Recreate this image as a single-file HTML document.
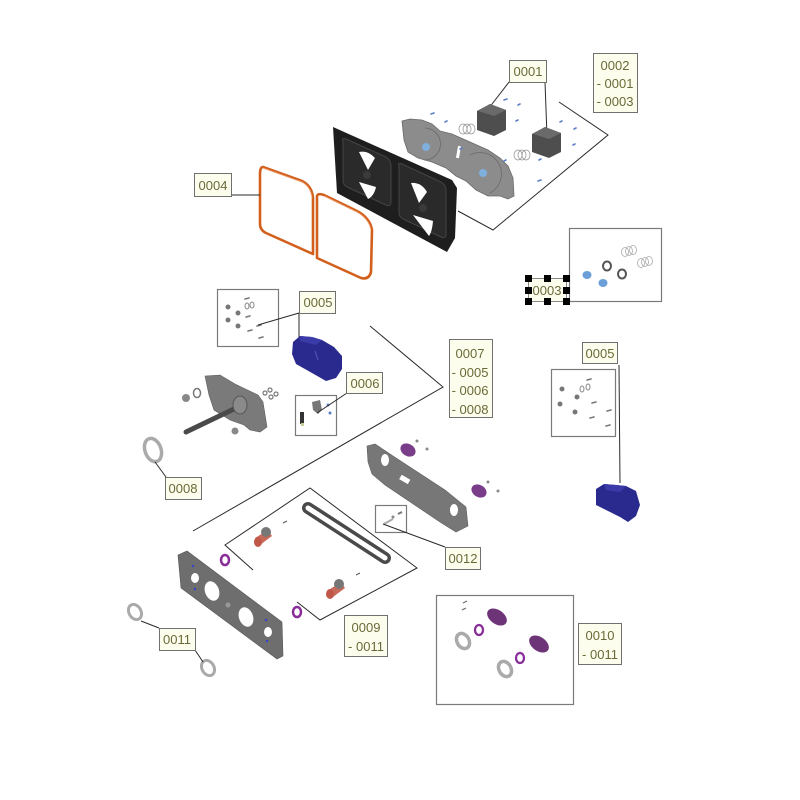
<!DOCTYPE html>
<html><head><meta charset="utf-8"><style>
html,body{margin:0;padding:0;background:#fff;}
svg{display:block;}
.lb{fill:#fdfdee;stroke:#707070;stroke-width:1;}
.t{font-family:"Liberation Sans",sans-serif;font-size:13px;fill:#6a6a38;text-anchor:middle;}
.ln{stroke:#2a2a2a;stroke-width:1;fill:none;}
.bx{fill:none;stroke:#7a7a7a;stroke-width:1.2;}
</style></head><body>
<svg width="800" height="800" viewBox="0 0 800 800" xmlns="http://www.w3.org/2000/svg">
<rect width="800" height="800" fill="#fff"/>

<!-- ===== top group lines ===== -->
<polyline class="ln" points="559,102 608,135 493,230 458,211"/>
<line class="ln" x1="509" y1="82" x2="489" y2="108"/>
<line class="ln" x1="545" y1="82" x2="547" y2="136"/>

<!-- gray plate (0002) -->
<path d="M402,121 L410,119 L422,120 L432,124 L440,131 L452,134 L470,142 L488,150 L500,158 L508,166 L513,178 L514,196 L508,199 L500,196 L488,196 L476,190 L466,181 L456,176 L446,168 L432,162 L418,158 L408,152 L404,140 Z" fill="#8c8c8c" stroke="#6a6a6a" stroke-width="0.8"/>
<path d="M425,128 A14,14 0 1 1 424,160" fill="none" stroke="#6a6a6a" stroke-width="0.8"/>
<path d="M470,155 A20,20 0 1 1 490,193" fill="none" stroke="#6a6a6a" stroke-width="0.8"/>
<rect x="457" y="146" width="3" height="12" fill="#fff" transform="rotate(10 458 152)"/>
<circle cx="426" cy="147" r="4" fill="#7fb0dd"/>
<circle cx="483" cy="173" r="4" fill="#7fb0dd"/>
<!-- motors -->
<path d="M477,111 L490,104 L506,110 L506,130 L494,136 L477,130 Z" fill="#4e4e4e"/>
<path d="M490,104 L506,110 L494,116 L478,111 Z" fill="#6a6a6a"/>
<path d="M532,134 L545,127 L561,133 L561,152 L549,158 L532,152 Z" fill="#4e4e4e"/>
<path d="M545,127 L561,133 L549,139 L533,134 Z" fill="#6a6a6a"/>
<!-- springs -->
<g fill="none" stroke="#999" stroke-width="0.8">
<ellipse cx="463" cy="129" rx="4" ry="5"/><ellipse cx="467" cy="129" rx="4" ry="5"/><ellipse cx="471" cy="129" rx="4" ry="5"/>
<ellipse cx="518" cy="155" rx="4" ry="5"/><ellipse cx="522" cy="155" rx="4" ry="5"/><ellipse cx="526" cy="155" rx="4" ry="5"/>
</g>
<!-- small blue screws -->
<g stroke="#5c7fc8" stroke-width="1.6" stroke-linecap="round">
<line x1="431" y1="114" x2="434" y2="113"/><line x1="445" y1="122" x2="447" y2="121"/>
<line x1="504" y1="100" x2="507" y2="99"/><line x1="518" y1="105" x2="520" y2="104"/>
<line x1="516" y1="121" x2="518" y2="120"/><line x1="460" y1="149" x2="462" y2="148"/>
<line x1="560" y1="122" x2="562" y2="121"/><line x1="574" y1="129" x2="576" y2="128"/>
<line x1="573" y1="145" x2="575" y2="144"/><line x1="539" y1="160" x2="541" y2="159"/>
<line x1="538" y1="181" x2="541" y2="180"/><line x1="504" y1="161" x2="506" y2="160"/>
</g>

<!-- black plate (0004 housing) -->
<path d="M333,127 L452,180 L457,188 L455,238 L447,252 L337,193 Z" fill="#1e1e1e"/>
<path d="M343,141 Q341,137 346,139 L386,157 Q391,160 391,166 L391,202 Q391,207 386,205 L347,187 Q343,185 343,180 Z" fill="#2a2a2a" stroke="#444" stroke-width="1"/>
<path d="M399,166 Q397,162 402,164 L441,182 Q446,185 446,191 L446,234 Q446,239 441,237 L403,219 Q399,217 399,212 Z" fill="#2a2a2a" stroke="#444" stroke-width="1"/>
<path d="M359,152 Q368,150 375,158 L368,170 Z" fill="#fff"/>
<path d="M359,182 L376,187 Q374,196 368,199 Z" fill="#fff"/>
<path d="M411,183 Q421,182 427,192 L419,203 Z" fill="#fff"/>
<path d="M413,215 L433,221 Q432,232 429,236 Z" fill="#fff"/>
<circle cx="367" cy="175" r="4" fill="#3a3a3a"/>
<circle cx="423" cy="208" r="4" fill="#3a3a3a"/>

<!-- orange gasket -->
<g fill="none" stroke="#d2601c" stroke-width="2.6" stroke-linejoin="round">
<path d="M263,167 L302,181 Q312,186 313,198 L313,254 L266,233 Q260,230 260,224 L260,174 Q260,167 263,167 Z"/>
<path d="M317,196 Q318,193 324,195 L357,211 Q370,218 372,230 L371,272 Q369,280 361,278 L317,258 Z"/>
</g>
<g fill="none" stroke="#f0a070" stroke-width="0.8">
<path d="M263,168 L302,182 Q311,187 312,198"/>
<path d="M324,196 L357,212 Q369,219 371,230"/>
</g>

<!-- 0004 label -->
<line class="ln" x1="231" y1="195" x2="260" y2="195" stroke="#555"/>
<rect class="lb" x="194.5" y="173.5" width="37" height="23"/>
<text class="t" x="213" y="190">0004</text>

<!-- 0001 label -->
<rect class="lb" x="509.5" y="60.5" width="37" height="22"/>
<text class="t" x="528" y="76">0001</text>

<!-- 0002 label -->
<rect class="lb" x="593.5" y="53.5" width="44" height="59"/>
<text class="t" x="615" y="70">0002</text>
<text class="t" x="615" y="88">- 0001</text>
<text class="t" x="615" y="106">- 0003</text>

<!-- 0003 parts box -->
<rect class="bx" x="569.5" y="228.5" width="92" height="73"/>
<ellipse cx="587" cy="275" rx="4.5" ry="4" fill="#6a9fd8"/>
<ellipse cx="603" cy="283" rx="4.5" ry="4" fill="#6a9fd8"/>
<ellipse cx="607" cy="266" rx="4" ry="4.5" fill="none" stroke="#555" stroke-width="2"/>
<ellipse cx="622" cy="274" rx="4" ry="4.5" fill="none" stroke="#555" stroke-width="2"/>
<g fill="none" stroke="#aaa" stroke-width="0.8">
<ellipse cx="625" cy="252" rx="3.5" ry="4.5"/><ellipse cx="629" cy="251" rx="3.5" ry="4.5"/><ellipse cx="633" cy="250" rx="3.5" ry="4.5"/>
<ellipse cx="641" cy="263" rx="3.5" ry="4.5"/><ellipse cx="645" cy="262" rx="3.5" ry="4.5"/><ellipse cx="649" cy="261" rx="3.5" ry="4.5"/>
</g>
<!-- 0003 selected label -->
<rect x="528.5" y="278.5" width="38" height="23" fill="#fdfdee" stroke="#888" stroke-width="1"/>
<text class="t" x="547" y="295">0003</text>
<g fill="#000">
<rect x="525" y="275" width="7" height="7"/><rect x="544" y="275" width="7" height="7"/><rect x="563" y="275" width="7" height="7"/>
<rect x="525" y="287" width="7" height="7"/><rect x="563" y="287" width="7" height="7"/>
<rect x="525" y="298" width="7" height="7"/><rect x="544" y="298" width="7" height="7"/><rect x="563" y="298" width="7" height="7"/>
</g>

<!-- ===== middle-left group ===== -->
<polyline class="ln" points="370,326 443,387 193,531"/>

<!-- 0005 left parts box -->
<rect class="bx" x="217.5" y="289.5" width="61" height="57"/>
<g fill="#777">
<circle cx="228" cy="307" r="2.5"/><circle cx="238" cy="313" r="2.5"/><circle cx="228" cy="320" r="2.5"/><circle cx="238" cy="326" r="2.5"/>
</g>
<g stroke="#777" stroke-width="1.6" stroke-linecap="round">
<line x1="245" y1="299" x2="249" y2="298"/><line x1="246" y1="317" x2="250" y2="316"/>
<line x1="257" y1="326" x2="261" y2="325"/><line x1="248" y1="331" x2="252" y2="330"/><line x1="259" y1="338" x2="263" y2="337"/>
</g>
<g fill="none" stroke="#888" stroke-width="1"><ellipse cx="247" cy="306" rx="2" ry="3"/><ellipse cx="252" cy="305" rx="2" ry="3"/></g>
<line class="ln" x1="299" y1="313" x2="258" y2="325"/>
<line class="ln" x1="299" y1="313" x2="299" y2="338"/>
<rect class="lb" x="299.5" y="291.5" width="36" height="22"/>
<text class="t" x="318" y="307">0005</text>

<!-- blue motor left -->
<path d="M293,342 L300,336 L312,337 L322,340 L334,347 L342,356 L342,369 L336,378 L326,381 L312,373 L296,364 L292,354 Z" fill="#2a2a8e"/>
<path d="M300,336 L312,337 L322,340 L316,345 L300,341 Z" fill="#3a3aa8"/>
<line x1="315" y1="351" x2="318" y2="360" stroke="#5555bb" stroke-width="1"/>

<!-- 0006 -->
<rect class="bx" x="295.5" y="395.5" width="41" height="40"/>
<path d="M312,402 L320,400 L322,410 L318,414 L313,410 Z" fill="#777"/>
<rect x="300" y="412" width="4" height="12" fill="#333"/>
<rect x="301" y="423" width="3" height="3" fill="#cc9"/>
<circle cx="328" cy="405" r="1.5" fill="#5c7fc8"/><circle cx="330" cy="413" r="1.5" fill="#5c7fc8"/>
<line class="ln" x1="347" y1="393" x2="317" y2="413"/>
<rect class="lb" x="346.5" y="372.5" width="36" height="21"/>
<text class="t" x="365" y="388">0006</text>

<!-- shaft plate -->
<path d="M205,376 L220,375 L235,384 L258,395 L263,402 L267,427 L260,432 L250,430 L244,425 L230,420 L214,410 L209,395 Z" fill="#7a7a7a" stroke="#5e5e5e" stroke-width="0.6"/>
<line x1="186" y1="432" x2="236" y2="408" stroke="#4a4a4a" stroke-width="5" stroke-linecap="round"/>
<ellipse cx="240" cy="405" rx="7" ry="9" fill="#8a8a8a" stroke="#555" stroke-width="1"/>
<circle cx="186" cy="398" r="4" fill="#888"/>
<ellipse cx="197" cy="393" rx="3.5" ry="4.5" fill="none" stroke="#777" stroke-width="1.5"/>
<circle cx="235" cy="431" r="3.5" fill="#888"/>
<g fill="none" stroke="#777" stroke-width="1.2"><circle cx="265" cy="393" r="2"/><circle cx="270" cy="390" r="2"/><circle cx="271" cy="397" r="2"/><circle cx="276" cy="394" r="2"/></g>

<!-- 0007 label -->
<rect class="lb" x="449.5" y="339.5" width="43" height="78"/>
<text class="t" x="470" y="358">0007</text>
<text class="t" x="470" y="377">- 0005</text>
<text class="t" x="470" y="395">- 0006</text>
<text class="t" x="470" y="414">- 0008</text>

<!-- 0008 ring -->
<ellipse cx="153" cy="450" rx="8" ry="12" fill="none" stroke="#aaa" stroke-width="3.5" transform="rotate(-20 153 450)"/>
<line class="ln" x1="166" y1="477" x2="155" y2="462"/>
<rect class="lb" x="165.5" y="477.5" width="36" height="22"/>
<text class="t" x="183" y="493">0008</text>

<!-- ===== right 0005 ===== -->
<rect class="lb" x="582.5" y="342.5" width="35" height="21"/>
<text class="t" x="600" y="358">0005</text>
<line class="ln" x1="619" y1="365" x2="620" y2="483"/>
<rect class="bx" x="551.5" y="369.5" width="64" height="67"/>
<g fill="#777">
<circle cx="562" cy="389" r="2.5"/><circle cx="577" cy="397" r="2.5"/><circle cx="560" cy="404" r="2.5"/><circle cx="575" cy="412" r="2.5"/>
</g>
<g stroke="#777" stroke-width="1.6" stroke-linecap="round">
<line x1="587" y1="380" x2="591" y2="379"/><line x1="592" y1="403" x2="596" y2="402"/>
<line x1="590" y1="418" x2="594" y2="417"/><line x1="607" y1="411" x2="611" y2="410"/><line x1="606" y1="426" x2="610" y2="425"/>
</g>
<g fill="none" stroke="#888" stroke-width="1"><ellipse cx="582" cy="389" rx="2" ry="3"/><ellipse cx="588" cy="387" rx="2" ry="3"/></g>
<path d="M596,489 L604,484 L616,485 L626,486 L636,491 L640,505 L636,516 L628,522 L620,517 L606,510 L596,505 Z" fill="#2a2a8e"/>
<path d="M604,484 L616,485 L626,486 L620,492 L606,490 Z" fill="#3a3aa8"/>

<!-- ===== lower group ===== -->
<!-- channel beam -->
<path d="M367,446 L375,444 L393,456 L445,490 L466,507 L468,526 L456,532 L440,522 L385,485 L372,474 L368,462 Z" fill="#777" stroke="#5e5e5e" stroke-width="0.6"/>
<ellipse cx="385" cy="460" rx="4" ry="6" fill="#fff"/>
<rect x="400" y="477" width="10" height="5" fill="#fff" transform="rotate(30 405 479)"/>
<ellipse cx="454" cy="510" rx="4" ry="6" fill="#fff"/>
<!-- purple plates -->
<ellipse cx="408" cy="450" rx="8" ry="6" fill="#7a3d8a" transform="rotate(30 408 450)"/>
<ellipse cx="479" cy="491" rx="8" ry="6" fill="#7a3d8a" transform="rotate(30 479 491)"/>
<circle cx="417" cy="441" r="1.5" fill="#888"/><circle cx="427" cy="449" r="1.5" fill="#888"/>
<circle cx="488" cy="482" r="1.5" fill="#888"/><circle cx="498" cy="491" r="1.5" fill="#888"/>

<!-- 0012 -->
<rect class="bx" x="375.5" y="505.5" width="31" height="27"/>
<line x1="384" y1="524" x2="393" y2="519" stroke="#aaa" stroke-width="2"/>
<circle cx="393" cy="517" r="1.5" fill="#888"/><line x1="398" y1="514" x2="402" y2="512" stroke="#777" stroke-width="2"/>
<line class="ln" x1="383" y1="524" x2="445" y2="547"/>
<rect class="lb" x="445.5" y="547.5" width="35" height="22"/>
<text class="t" x="463" y="563">0012</text>

<!-- 0009 group -->
<polyline class="ln" points="253,570 225,545 310,488 417,568 320,620 297,602"/>
<!-- belt -->
<line x1="308" y1="508" x2="385" y2="558" stroke="#4a4a4a" stroke-width="12" stroke-linecap="round"/>
<line x1="308" y1="508" x2="385" y2="558" stroke="#fff" stroke-width="5" stroke-linecap="round"/>
<!-- pulleys -->
<path d="M255,538 L268,530 L272,536 L260,545 Z" fill="#c86a5a"/>
<circle cx="266" cy="532" r="5" fill="#777"/>
<ellipse cx="258" cy="542" rx="4" ry="5" fill="#c0584a"/>
<line x1="283" y1="523" x2="287" y2="521" stroke="#555" stroke-width="1"/>
<path d="M327,591 L341,582 L345,588 L333,597 Z" fill="#c86a5a"/>
<circle cx="339" cy="584" r="5" fill="#777"/>
<ellipse cx="330" cy="594" rx="4" ry="5" fill="#c0584a"/>
<line x1="356" y1="575" x2="360" y2="573" stroke="#555" stroke-width="1"/>
<!-- purple rings -->
<ellipse cx="225" cy="560" rx="4" ry="5" fill="none" stroke="#8a2d9a" stroke-width="2.5"/>
<ellipse cx="297" cy="612" rx="4" ry="5" fill="none" stroke="#8a2d9a" stroke-width="2.5"/>

<!-- bottom-left plate -->
<path d="M178,555 L187,551 L282,622 L283,656 L277,659 L181,588 Z" fill="#6e6e6e" stroke="#555" stroke-width="0.6"/>
<ellipse cx="195" cy="578" rx="4" ry="5" fill="#fff"/>
<ellipse cx="212" cy="591" rx="7" ry="10" fill="#fff" transform="rotate(-20 212 591)"/>
<ellipse cx="246" cy="617" rx="7" ry="10" fill="#fff" transform="rotate(-20 246 617)"/>
<ellipse cx="268" cy="632" rx="4" ry="5" fill="#fff"/>
<circle cx="228" cy="605" r="2.5" fill="#999"/>
<circle cx="193" cy="566" r="1.2" fill="#3344cc"/><circle cx="195" cy="589" r="1.2" fill="#3344cc"/>
<circle cx="266" cy="620" r="1.2" fill="#3344cc"/><circle cx="267" cy="641" r="1.2" fill="#3344cc"/>

<!-- 0009 label -->
<rect class="lb" x="344.5" y="615.5" width="43" height="41"/>
<text class="t" x="366" y="632">0009</text>
<text class="t" x="366" y="651">- 0011</text>

<!-- 0011 -->
<ellipse cx="135" cy="612" rx="6" ry="8" fill="none" stroke="#aaa" stroke-width="3" transform="rotate(-30 135 612)"/>
<ellipse cx="208" cy="668" rx="6" ry="8" fill="none" stroke="#aaa" stroke-width="3" transform="rotate(-30 208 668)"/>
<line class="ln" x1="159" y1="628" x2="141" y2="621"/>
<line class="ln" x1="195" y1="650" x2="203" y2="662"/>
<rect class="lb" x="159.5" y="628.5" width="36" height="22"/>
<text class="t" x="177" y="644">0011</text>

<!-- 0010 box -->
<rect class="bx" x="436.5" y="595.5" width="137" height="109"/>
<line x1="463" y1="603" x2="467" y2="601" stroke="#666" stroke-width="1"/>
<line x1="462" y1="610" x2="466" y2="608" stroke="#666" stroke-width="1"/>
<ellipse cx="497" cy="617" rx="11" ry="7" fill="#6e3478" transform="rotate(35 497 617)"/>
<ellipse cx="539" cy="644" rx="11" ry="7" fill="#6e3478" transform="rotate(35 539 644)"/>
<ellipse cx="479" cy="630" rx="4" ry="5" fill="none" stroke="#8a2d9a" stroke-width="2.3"/>
<ellipse cx="520" cy="658" rx="4" ry="5" fill="none" stroke="#8a2d9a" stroke-width="2.3"/>
<ellipse cx="463" cy="641" rx="6" ry="8" fill="none" stroke="#aaa" stroke-width="3.5" transform="rotate(-30 463 641)"/>
<ellipse cx="505" cy="669" rx="6" ry="8" fill="none" stroke="#aaa" stroke-width="3.5" transform="rotate(-30 505 669)"/>
<rect class="lb" x="578.5" y="623.5" width="43" height="41"/>
<text class="t" x="600" y="640">0010</text>
<text class="t" x="600" y="659">- 0011</text>
</svg>
</body></html>
